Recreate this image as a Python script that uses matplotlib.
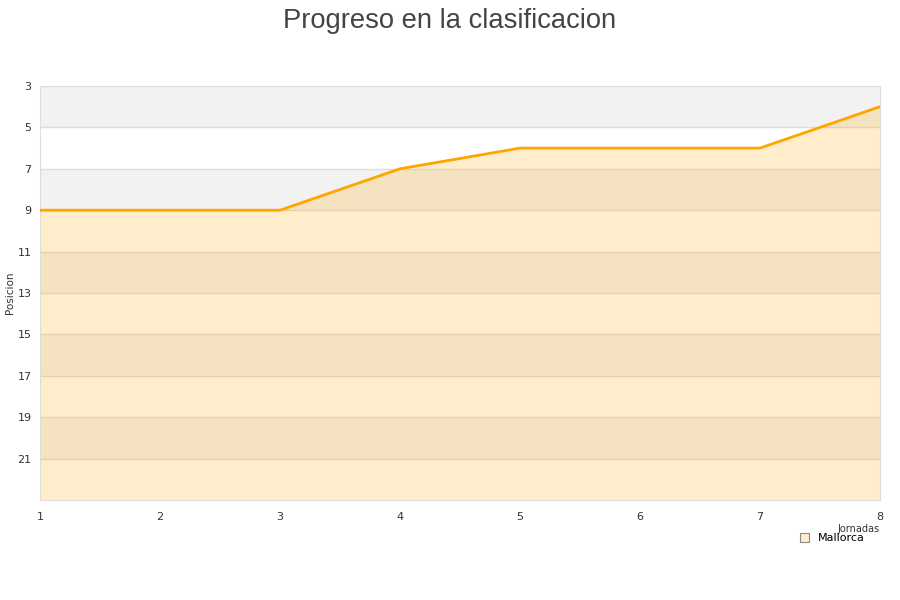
import matplotlib
matplotlib.use('Agg')
import matplotlib.pyplot as plt

# Jornadas y posiciones
jornadas = [1, 2, 3, 4, 5, 6, 7, 8]
posiciones = [9, 9, 9, 7, 6, 6, 6, 4]
equipo = 'Mallorca'
yticks = [3, 5, 7, 9, 11, 13, 15, 17, 19, 21]

fig = plt.figure(figsize=(9, 6), dpi=100)
ax = fig.add_axes([40/900, 1-500/600, 840/900, 414/600])

ymin, ymax = 3, 23
# alternating background bands
for y0 in range(3, 23, 4):
    ax.axhspan(y0, y0 + 2, color='#f2f2f2', zorder=0, lw=0)
for y in yticks[1:]:
    ax.axhline(y, color='#dddddd', lw=1, zorder=1)

ax.fill_between(jornadas, posiciones, ymax, color='#ffa500', alpha=0.2, lw=0, zorder=2)
ax.plot(jornadas, posiciones, color='#ffa500', lw=2, zorder=3)

ax.set_xlim(1, 8)
ax.set_ylim(ymax, ymin)
ax.set_yticks(yticks)
ax.set_xticks(jornadas)
ax.tick_params(length=0, labelsize=8, colors='#333333')
ax.tick_params(axis='y', pad=6)
ax.tick_params(axis='x', pad=9)
for s in ax.spines.values():
    s.set_color('#dddddd')

ax.set_ylabel('Posicion', fontsize=7.5, color='#333333')
ax.yaxis.set_label_coords(-0.03, 0.5)
ax.set_xlabel('Jornadas', fontsize=7, color='#333333', ha='right')
ax.xaxis.set_label_coords(1.0, -0.058)

fig.suptitle('Progreso en la clasificacion', fontsize=19.7, color='#444444',
             family='Liberation Sans', y=0.987)

patch = plt.Rectangle((0, 0), 1, 1, facecolor='#ffecc8', edgecolor='#888888', lw=0.8)
leg = fig.legend([patch], [equipo], loc='center', bbox_to_anchor=(0.925, 0.103),
                 frameon=False, fontsize=8, handlelength=0.8, handleheight=0.8,
                 borderpad=0.2, handletextpad=0.8)

fig.savefig('out.png', dpi=100)
